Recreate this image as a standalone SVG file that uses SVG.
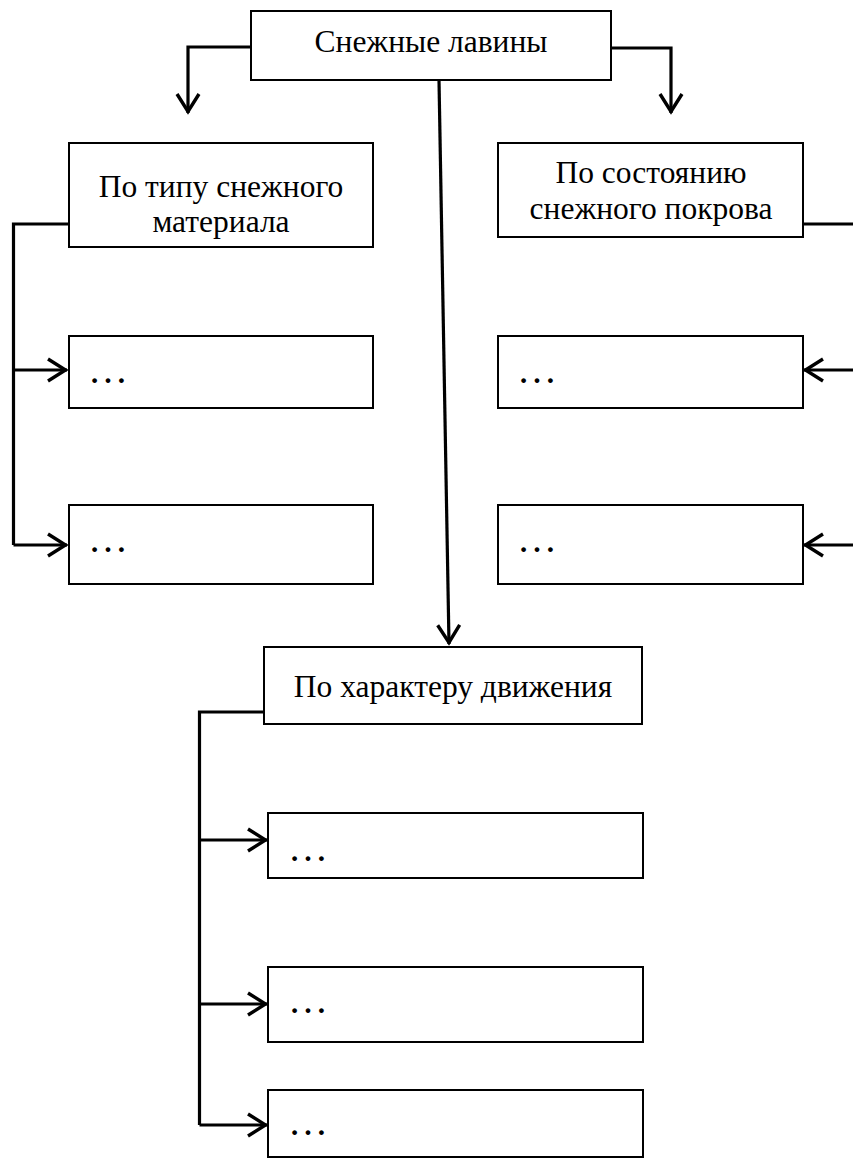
<svg xmlns="http://www.w3.org/2000/svg" width="853" height="1160" viewBox="0 0 853 1160">
<style>
.box{fill:#fff;stroke:#000;stroke-width:2}
.t{font-family:"Liberation Serif","Times New Roman",serif;font-size:31.5px;fill:#000;text-anchor:middle}
.d{font-family:"Liberation Serif","Times New Roman",serif;font-size:40px;fill:#000}
.c{fill:none;stroke:#000;stroke-width:3.2}
</style>
<defs>
<marker id="arr" markerUnits="userSpaceOnUse" markerWidth="30" markerHeight="30" viewBox="-25 -15 30 30" refX="0" refY="0" orient="auto">
<path d="M-19,-11 L-1.5,0 L-19,11" fill="none" stroke="#000" stroke-width="3.4"/>
</marker>
</defs>
<rect width="853" height="1160" fill="#fff"/>
<g id="connectors">
<path class="c" d="M251,47 H188 V113" marker-end="url(#arr)"/>
<path class="c" d="M611,48 H671 V113" marker-end="url(#arr)"/>
<path class="c" d="M439,80 L449,644" marker-end="url(#arr)"/>
<path class="c" d="M69,224 H13.5 V545"/>
<path class="c" d="M13.5,370 H67" marker-end="url(#arr)"/>
<path class="c" d="M13.5,545 H67" marker-end="url(#arr)"/>
<path class="c" d="M803,224 H853"/>
<path class="c" d="M853,370 H804" marker-end="url(#arr)"/>
<path class="c" d="M853,545 H804" marker-end="url(#arr)"/>
<path class="c" d="M263,712 H199.5 V1125"/>
<path class="c" d="M199.5,840 H267" marker-end="url(#arr)"/>
<path class="c" d="M199.5,1004 H267" marker-end="url(#arr)"/>
<path class="c" d="M199.5,1125 H267" marker-end="url(#arr)"/>
</g>
<g id="root"><rect class="box" x="251" y="11" width="360" height="69"/><text class="t" x="431" y="52">Снежные лавины</text></g>
<g id="material"><rect class="box" x="69" y="143" width="304" height="104"/><text class="t" x="221" y="197">По типу снежного</text><text class="t" x="221" y="232">материала</text></g>
<g id="cover"><rect class="box" x="498" y="143" width="305" height="94"/><text class="t" x="651" y="183">По состоянию</text><text class="t" x="651" y="219">снежного покрова</text></g>
<g id="movement"><rect class="box" x="264" y="647" width="378" height="77"/><text class="t" x="453" y="697">По характеру движения</text></g>
<g id="m1"><rect class="box" x="69" y="336" width="304" height="72"/><text class="d" x="88" y="383">…</text></g>
<g id="m2"><rect class="box" x="69" y="505" width="304" height="79"/><text class="d" x="88" y="552">…</text></g>
<g id="c1"><rect class="box" x="498" y="336" width="305" height="72"/><text class="d" x="517" y="383">…</text></g>
<g id="c2"><rect class="box" x="498" y="505" width="305" height="79"/><text class="d" x="517" y="552">…</text></g>
<g id="v1"><rect class="box" x="268" y="813" width="375" height="65"/><text class="d" x="288" y="861">…</text></g>
<g id="v2"><rect class="box" x="268" y="967" width="375" height="75"/><text class="d" x="288" y="1013">…</text></g>
<g id="v3"><rect class="box" x="268" y="1090" width="375" height="67"/><text class="d" x="288" y="1135">…</text></g>
</svg>
